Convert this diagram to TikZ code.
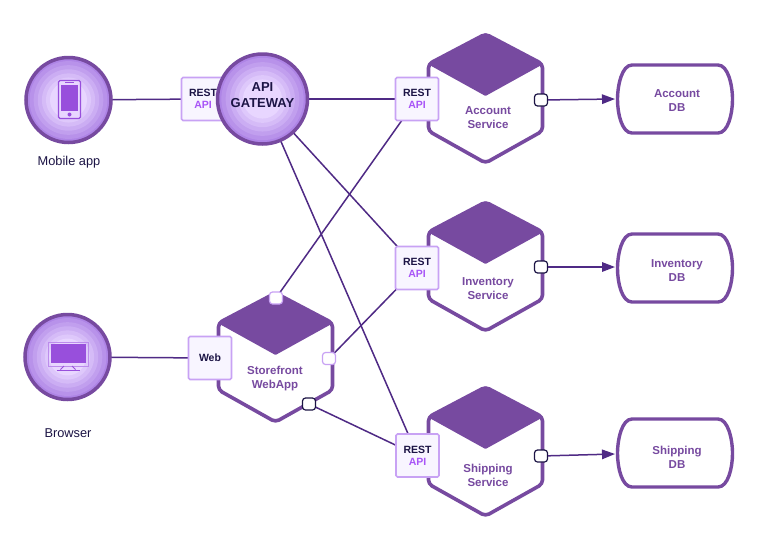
\documentclass[tikz,border=0pt]{standalone}
\usepackage{fontspec}
\setmainfont{Liberation Sans}
\usetikzlibrary{arrows.meta}
\definecolor{hexpurple}{HTML}{774AA0}
\definecolor{linepurple}{HTML}{4F2A85}
\definecolor{inkdark}{HTML}{1C1445}
\definecolor{apipurple}{HTML}{A855F7}
\definecolor{boxedge}{HTML}{C8A2F4}
\definecolor{boxfill}{HTML}{F8F5FF}
\definecolor{iconfill}{HTML}{984FDC}
\definecolor{ringout}{HTML}{AE84E6}
\definecolor{ringin}{HTML}{E8D6FF}
\pgfdeclarelayer{canvas}
\pgfdeclarelayer{wires}
\pgfsetlayers{canvas,wires,main}
\tikzset{
  x=1pt,y=-1pt,
  link/.style={draw=linepurple,line width=1.5pt},
  linkarrow/.style={link,-{Triangle[length=13pt,width=9.5pt]}},
  ringnode/.style={circle,draw=hexpurple,line width=3.5pt,minimum size=#1,inner sep=0pt},
  restbox/.style={draw=boxedge,fill=boxfill,line width=1.6pt,rounded corners=1.5pt,minimum width=43pt,minimum height=43pt,inner sep=0pt,align=center,text=inkdark,font=\fontsize{10.5}{12.5}\selectfont\bfseries},
  portbox/.style={draw=inkdark,fill=white,line width=1.2pt,rounded corners=3pt,minimum width=13pt,minimum height=12pt,inner sep=0pt},
  portpale/.style={portbox,draw=boxedge},
  hexlabel/.style={align=center,text=hexpurple,inner sep=0pt,font=\fontsize{11.5}{14}\selectfont\bfseries},
  caption/.style={text=inkdark,inner sep=0pt,font=\fontsize{12.8}{15}\selectfont},
}
\newcommand{\ringdisc}[3]{%
  \foreach \k in {0,...,6}{
    \pgfmathsetmacro{\mixv}{\k*100/6}
    \fill[ringin!\mixv!ringout] (#1,#2) circle ({#3*(1-\k*0.095)});
  }%
}
\newcommand{\hexdraw}[2]{%
  \begin{scope}[shift={(#1,#2)}]
    \draw[hexpurple,fill=white,line width=3.6pt,rounded corners=4pt,line join=round]
      (0,0) -- (57,30) -- (57,97) -- (0,129) -- (-57,97) -- (-57,30) -- cycle;
    \fill[hexpurple,rounded corners=1pt] (-56,31) -- (0,-1) -- (56,31) -- (0,62) -- cycle;
  \end{scope}%
}
\newcommand{\dbdraw}[1]{%
  \draw[hexpurple,fill=white,line width=3.4pt] (632,#1) -- (718,#1)
    .. controls (728,#1) and (732.5,#1+20) .. (732.5,#1+34.5)
    .. controls (732.5,#1+49) and (728,#1+68) .. (718,#1+68)
    -- (632,#1+68)
    .. controls (622,#1+68) and (617.5,#1+49) .. (617.5,#1+34.5)
    .. controls (617.5,#1+20) and (622,#1) .. (632,#1) -- cycle;
}
\newcommand{\restlabel}{REST\\[-0.5pt]\textcolor{apipurple}{API}}
\begin{document}
\begin{tikzpicture}
\useasboundingbox (0,0) rectangle (760,552);
\begin{pgfonlayer}{canvas}
\fill[white] (0,0) rectangle (760,552);
\end{pgfonlayer}

% REST box behind gateway
\node[restbox] (restm) at (203,99) {\restlabel};

% discs
\ringdisc{68.5}{100}{43}
\node[ringnode=85pt] (mobile) at (68.5,100) {};
\ringdisc{262.5}{99}{45.5}
\node[ringnode=90pt] (gw) at (262.5,99) {};
\node[text=inkdark,align=center,inner sep=0pt,font=\fontsize{13}{16}\selectfont\bfseries] (gwl) at (262.5,95) {API\\GATEWAY};
\ringdisc{67.5}{357}{43}
\node[ringnode=85pt] (browser) at (67.5,357) {};

% phone icon
\draw[iconfill,line width=1.2pt,rounded corners=1.5pt,fill=ringin] (58.5,80.5) rectangle (80.5,118.5);
\fill[iconfill] (61,85) rectangle (78,111);
\fill[iconfill] (69.5,114.5) circle (2pt);
\fill[iconfill] (65,82) rectangle (74,83);
% monitor icon
\draw[iconfill!55!ringin,line width=0.8pt] (48,342) rectangle (88,366);
\fill[iconfill] (50.5,344) rectangle (86,363);
\draw[iconfill,line width=0.9pt] (64,366) -- (60.5,369.5) (72,366) -- (75.5,369.5);
\draw[iconfill,line width=1.2pt] (56.5,370.5) -- (80,370.5);

\node[caption] (lblm) at (69,162) {Mobile app};
\node[caption] (lblb) at (68,433) {Browser};

% hexagons
\hexdraw{485.5}{34}
\hexdraw{485.5}{202}
\hexdraw{485.5}{387}
\hexdraw{275.5}{293}

\node[hexlabel] (accl) at (488,118) {Account\\Service};
\node[hexlabel] (invl) at (488,289) {Inventory\\Service};
\node[hexlabel] (shpl) at (488,475) {Shipping\\Service};
\node[hexlabel] (sfl) at (275,379) {Storefront\\WebApp};

% boxes
\node[restbox] (resta) at (417,99) {\restlabel};
\node[restbox] (resti) at (417,268) {\restlabel};
\node[restbox] (rests) at (417.5,455.5) {\restlabel};
\node[restbox] (web) at (210,358) {Web};

% ports
\node[portbox] (pa) at (541,100) {};
\node[portbox] (pi) at (541,267) {};
\node[portbox] (ps) at (541,456) {};
\node[portpale] (pt) at (276,298) {};
\node[portpale] (pr) at (329,358.5) {};
\node[portbox] (pb) at (309,404) {};

% databases
\dbdraw{65}
\dbdraw{234}
\dbdraw{419}
\node[hexlabel] (dba) at (677,101) {Account\\DB};
\node[hexlabel] (dbi) at (677,271) {Inventory\\DB};
\node[hexlabel] (dbs) at (677,457) {Shipping\\DB};
\coordinate (dbain) at (615,99);
\coordinate (dbiin) at (615,267);
\coordinate (dbsin) at (615,454);

\begin{pgfonlayer}{wires}
  \path[link] (mobile.center) -- (restm.center);
  \path[link] (browser.center) -- (web.center);
  \path[link] (gw.center) -- (resta.center);
  \path[link] (gw.center) -- (resti.center);
  \path[link] (gw.center) -- (rests.center);
  \path[link] (pt.center) -- (resta.center);
  \path[link] (pr.center) -- (resti.center);
  \path[link] (pb.center) -- (rests.center);
\end{pgfonlayer}
\path[linkarrow] (pa) -- (dbain);
\path[linkarrow] (pi) -- (dbiin);
\path[linkarrow] (ps) -- (dbsin);
\end{tikzpicture}
\end{document}
